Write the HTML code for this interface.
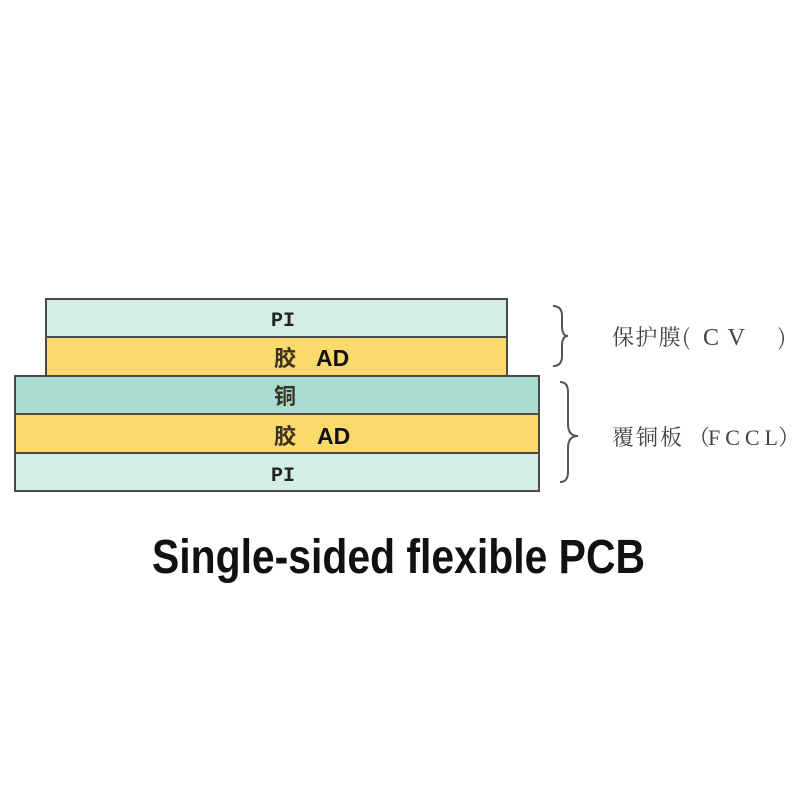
<!DOCTYPE html>
<html><head><meta charset="utf-8"><style>
html,body{margin:0;padding:0;background:#fff;}
</style></head><body>
<svg width="800" height="800" viewBox="0 0 800 800" xmlns="http://www.w3.org/2000/svg">
<rect x="0" y="0" width="800" height="800" fill="#fff"/>
<g stroke="#4a4a4a" stroke-width="2">
<rect x="46" y="299" width="461" height="38" fill="#d5ede7"/>
<rect x="46" y="337" width="461" height="39" fill="#fbd96a"/>
<rect x="15" y="376" width="524" height="38" fill="#a9dccf"/>
<rect x="15" y="414" width="524" height="39" fill="#fbd96a"/>
<rect x="15" y="453" width="524" height="38" fill="#d5ede7"/>
</g>
<g font-family="Liberation Mono, monospace" font-size="20" font-weight="bold" fill="#222">
<text x="271" y="326">PI</text>
<text x="271" y="481">PI</text>
</g>
<g font-family="'Noto Sans CJK SC', sans-serif" font-size="22" font-weight="bold" fill="#3a3220">
<text x="274" y="366">胶</text>
<text x="274" y="404">铜</text>
<text x="274" y="444">胶</text>
</g>
<g font-family="Liberation Sans, sans-serif" font-size="23" font-weight="bold" fill="#111">
<text x="316" y="366">AD</text>
<text x="317" y="444">AD</text>
</g>
<g fill="none" stroke="#555" stroke-width="2">
<path d="M553 306 Q562 306 562 316 L562 326 Q562 336 568 336 Q562 336 562 346 L562 356 Q562 366 553 366"/>
<path d="M560 382 Q568 382 568 392 L568 424 Q568 436 578 436 Q568 436 568 448 L568 472 Q568 482 560 482"/>
</g>
<g font-family="'Noto Serif CJK SC', serif" font-size="22" fill="#444">
<text x="612" y="345" textLength="78" lengthAdjust="spacing">保护膜(</text>
<text x="703" y="345" font-family="Liberation Serif, serif" font-size="24" textLength="42" lengthAdjust="spacing">CV</text>
<text x="778" y="345">)</text>
<text x="612" y="445" textLength="70" lengthAdjust="spacing">覆铜板</text>
<text x="688" y="445">（</text>
<text x="708" y="445" font-family="Liberation Serif, serif" font-size="22" textLength="70" lengthAdjust="spacing">FCCL</text>
<text x="778" y="445">）</text>
</g>
<text x="152" y="573" font-family="Liberation Sans, sans-serif" font-weight="bold" font-size="48" fill="#111" textLength="493" lengthAdjust="spacingAndGlyphs">Single-sided flexible PCB</text>
</svg>
</body></html>
